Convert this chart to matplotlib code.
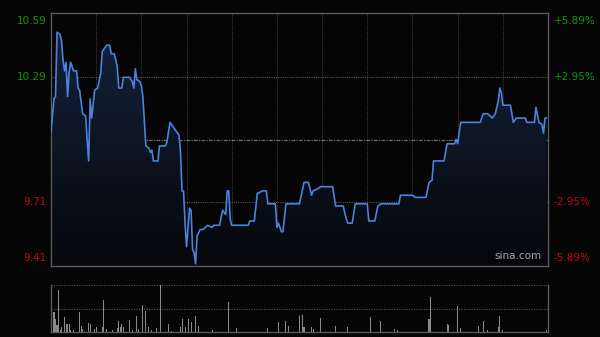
import matplotlib.pyplot as plt
import numpy as np
from matplotlib.patches import PathPatch
from matplotlib.colors import LinearSegmentedColormap

PREV_CLOSE = 10.00
Y_LOW, Y_HIGH = 9.41, 10.59
SESSION_MINUTES = 330  # 09:30-12:00 + 13:00-16:00

# intraday price, minutes since open
minutes = [0, 2, 3, 4, 6, 7, 8, 9, 10, 11, 12, 13, 15, 17, 18, 19, 21, 23, 24, 25,
           26, 27, 29, 31, 33, 34, 36, 37, 39, 40, 42, 44, 45, 47, 48, 52, 54, 55, 56, 57,
           59, 60, 61, 63, 65, 66, 67, 68, 71, 72, 76, 77, 79, 81, 82, 85, 86, 87, 88, 89,
           90, 91, 92, 93, 94, 95, 96, 97, 99, 101, 104, 107, 108, 112, 113, 114, 116, 117, 118, 119,
           120, 131, 132, 135, 137, 138, 140, 143, 144, 149, 150, 151, 153, 154, 156, 165, 168, 171, 173, 174,
           177, 179, 187, 189, 194, 196, 197, 200, 202, 210, 211, 215, 217, 219, 231, 232, 240, 242, 248, 249,
           251, 253, 254, 261, 263, 268, 269, 270, 272, 285, 287, 290, 293, 295, 297, 298, 299, 300, 305, 307,
           309, 315, 316, 321, 322, 324, 326, 327, 328, 329]
prices = [10.04, 10.19, 10.20, 10.50, 10.49, 10.46, 10.37, 10.32, 10.36, 10.20, 10.31, 10.36, 10.32, 10.32, 10.24, 10.23, 10.12, 10.11, 10.00, 9.90,
          10.19, 10.10, 10.23, 10.24, 10.31, 10.41, 10.43, 10.44, 10.44, 10.40, 10.40, 10.34, 10.24, 10.24, 10.29, 10.29, 10.27, 10.24, 10.33, 10.28,
          10.27, 10.25, 10.20, 9.97, 9.96, 9.94, 9.95, 9.90, 9.90, 9.97, 9.97, 9.99, 10.08, 10.06, 10.05, 10.02, 9.94, 9.76, 9.76, 9.61,
          9.50, 9.59, 9.68, 9.67, 9.49, 9.47, 9.42, 9.55, 9.58, 9.58, 9.60, 9.59, 9.60, 9.60, 9.64, 9.67, 9.65, 9.76, 9.76, 9.63,
          9.60, 9.60, 9.62, 9.62, 9.75, 9.75, 9.76, 9.76, 9.70, 9.70, 9.59, 9.61, 9.57, 9.57, 9.70, 9.70, 9.80, 9.80, 9.74, 9.76,
          9.77, 9.78, 9.78, 9.69, 9.69, 9.63, 9.61, 9.61, 9.70, 9.70, 9.62, 9.62, 9.69, 9.70, 9.70, 9.74, 9.74, 9.73, 9.73, 9.73,
          9.80, 9.81, 9.90, 9.90, 9.98, 9.98, 10.00, 9.98, 10.08, 10.08, 10.12, 10.12, 10.10, 10.12, 10.18, 10.24, 10.22, 10.16, 10.16, 10.08,
          10.10, 10.10, 10.08, 10.08, 10.15, 10.08, 10.07, 10.03, 10.10, 10.10]

# volume (relative units, tallest bar = 47)
vol_minutes = [0, 2, 3, 4, 5, 6, 7, 9, 10, 11, 12, 13, 15, 19, 20, 21, 25, 26, 29, 30,
               34, 35, 37, 41, 44, 45, 46, 47, 48, 52, 54, 57, 58, 61, 63, 65, 67, 70, 73, 78,
               80, 86, 87, 89, 91, 93, 96, 98, 107, 118, 123, 144, 151, 156, 158, 165, 167, 168, 173, 174,
               179, 189, 197, 212, 219, 228, 230, 251, 252, 263, 264, 270, 272, 284, 287, 290, 297, 298, 300, 329]
vol_values = [5, 20, 13, 7, 42, 2, 5, 15, 8, 8, 8, 2, 2, 20, 6, 3, 9, 8, 3, 5,
              5, 32, 3, 2, 4, 11, 5, 8, 5, 12, 2, 16, 3, 27, 21, 5, 2, 4, 47, 8,
              1, 5, 13, 5, 13, 10, 16, 6, 2, 30, 4, 4, 10, 11, 6, 16, 17, 5, 5, 3,
              14, 6, 5, 15, 11, 3, 2, 13, 35, 8, 7, 26, 4, 6, 11, 2, 5, 16, 2, 2]

left_levels = [10.59, 10.29, 9.71, 9.41]
left_labels = ["10.59", "10.29", "9.71", "9.41"]
right_labels = ["+5.89%", "+2.95%", "-2.95%", "-5.89%"]

BG = "#050505"
GREEN = "#0b9a0b"
RED = "#c40a0a"
FRAME = "#5a5a5a"
GRID = "#3a3a3a"

fig = plt.figure(figsize=(6, 3.37), dpi=100, facecolor=BG)
ax = fig.add_axes([51 / 600, 1 - 266 / 337, 497 / 600, 253 / 337])
axv = fig.add_axes([51 / 600, 1 - 332 / 337, 497 / 600, 47 / 337])

for a in (ax, axv):
    a.set_facecolor(BG)
    a.set_xlim(0, SESSION_MINUTES)
    a.set_xticks([])
    a.set_yticks([])
    for s in a.spines.values():
        s.set_color(FRAME)
        s.set_linewidth(1.0)

ax.set_ylim(Y_LOW, Y_HIGH)

# vertical grid every half hour
for m in range(30, SESSION_MINUTES, 30):
    ax.axvline(m, color=GRID, lw=0.8, ls=(0, (1, 1)), zorder=1)
for lv in (10.29, 9.71):
    ax.axhline(lv, color="#555555", lw=0.8, ls=(0, (1, 1)), zorder=1)
ax.axhline(PREV_CLOSE, color="#6a6a6a", lw=0.9, ls=(0, (3, 1, 1, 1)), zorder=1)

# gradient fill under the price line
fill = ax.fill_between(minutes, prices, Y_LOW, color="none", lw=0)
cmap = LinearSegmentedColormap.from_list("fade", ["#05070a", "#16243f"])
grad = np.linspace(0, 1, 256).reshape(-1, 1)
img = ax.imshow(grad, cmap=cmap, origin="lower", aspect="auto",
                extent=[0, SESSION_MINUTES, Y_LOW, Y_HIGH], zorder=2)
clip = PathPatch(fill.get_paths()[0], transform=ax.transData, facecolor="none", edgecolor="none")
ax.add_patch(clip)
img.set_clip_path(clip)

ax.plot(minutes, prices, color="#4a82dc", lw=1.2, zorder=3)

# axis labels
for lv, lt, rt in zip(left_levels, left_labels, right_labels):
    col = GREEN if lv > PREV_CLOSE else RED
    va = "center"
    dy = 0
    if lv == Y_HIGH:
        dy = -6
    elif lv == Y_LOW:
        dy = 6
    ax.annotate(lt, xy=(0, lv), xycoords=("axes fraction", "data"), xytext=(-3, dy),
                textcoords="offset points", ha="right", va=va, color=col, fontsize=7.5)
    ax.annotate(rt, xy=(1, lv), xycoords=("axes fraction", "data"), xytext=(4, dy),
                textcoords="offset points", ha="left", va=va, color=col, fontsize=7.5)

ax.text(0.94, 0.018, "sina.com", transform=ax.transAxes, ha="center", va="bottom",
        color="#a8a8a8", fontsize=7.5, zorder=4)

# volume panel
axv.set_ylim(0, max(vol_values))
axv.bar(vol_minutes, vol_values, width=0.7, color="#8a8a8a", zorder=2)
axv.spines["top"].set_visible(False)
axv.axhline(max(vol_values), color="#4a4a4a", lw=0.9, ls=(0, (1, 1)), zorder=1)
axv.axhline(max(vol_values) / 2, color="#4a4a4a", lw=0.9, ls=(0, (1, 1)), zorder=1)

fig.savefig("out.png", dpi=100, facecolor=BG)
